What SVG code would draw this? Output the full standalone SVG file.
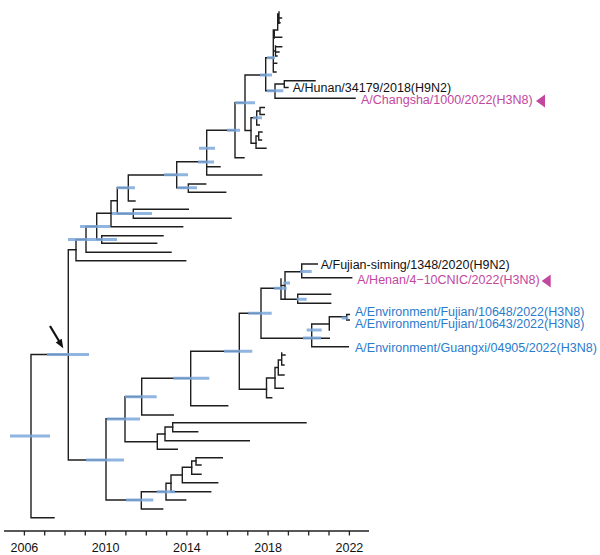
<svg xmlns="http://www.w3.org/2000/svg" width="600" height="555" viewBox="0 0 600 555">
<style>
.br{fill:none;stroke:#1e1e1e;stroke-width:1.4;stroke-linecap:square}
.hpd{fill:none;stroke:#7ea8dc;stroke-width:3;opacity:0.85}
.ax{fill:none;stroke:#222;stroke-width:1.3}
.lbl{font-family:"Liberation Sans",Arial,sans-serif;font-size:12.5px}
.yr{font-family:"Liberation Sans",Arial,sans-serif;font-size:12.5px;fill:#111;text-anchor:middle}
.blk{fill:#111}
.mag{fill:#c2479f}
.blu{fill:#2b7bcc}
</style>
<rect width="600" height="555" fill="#fff"/>
<g id="connectors">
<path class="br" d="M31 354.5V517.7M31 354.5H68.3M31 517.7H54"/>
<path class="br" d="M68.3 249.8V460M68.3 249.8H76M68.3 460H106"/>
<path class="br" d="M76 239.5V260.7M76 239.5H86M76 260.7H185.7"/>
<path class="br" d="M86 226.5V252.3M86 226.5H96.7M86 252.3H171"/>
<path class="br" d="M96.7 213.3V239.5M96.7 213.3H111M96.7 239.5H101.7"/>
<path class="br" d="M101.7 235.7V243.3M101.7 235.7H163M101.7 243.3H156.7"/>
<path class="br" d="M111 200.7V226.7M111 200.7H117.3M111 226.7H182.7"/>
<path class="br" d="M117.3 187.7V213.8M117.3 187.7H128.3M117.3 213.8H133.3"/>
<path class="br" d="M133.3 209.3V218.3M133.3 209.3H188.3M133.3 218.3H231"/>
<path class="br" d="M128.3 175V201M128.3 175H176.7M128.3 201H135"/>
<path class="br" d="M176.7 161.7V187.8M176.7 161.7H206.7M176.7 187.8H188.3"/>
<path class="br" d="M188.3 184V192.3M188.3 184H205.7M188.3 192.3H225.7"/>
<path class="br" d="M206.7 148.3V175M206.7 175H261.7M206.7 130.2V166.7M206.7 130.2H235M206.7 166.7H220"/>
<path class="br" d="M235 102.7V157.7M235 102.7H245M235 157.7H244"/>
<path class="br" d="M245 75V130.5M245 75H265.7M245 130.5H251"/>
<path class="br" d="M251 117.7V143.3M251 117.7H256.7M251 143.3H256"/>
<path class="br" d="M256.7 111V125M256.7 111H260M256.7 125H259.3M260 107.5V114.5M260 107.5H264.3M260 114.5H264.3"/>
<path class="br" d="M256 136V148.3M256 136H258.7M256 148.3H266M258.7 132V140M258.7 132H262M258.7 140H261.5"/>
<path class="br" d="M265.7 57.7V90.7M265.7 57.7H273.3M265.7 90.7H275"/>
<path class="br" d="M275 84V98.3M275 84H284.3M275 98.3H355M284.3 80.7V87.5M284.3 80.7H315M284.3 87.5H288"/>
<path class="br" d="M273.3 30V72M273.3 72H276M273.3 63.3H276.7M273.3 51H275.5M275.5 46V56M275.5 46.7H281.7M275.5 52H279M275.5 56H277M273.3 34H274.3M274.3 30V38M274.3 30H277.7M274.3 37.3H281.7M277.7 14V30M277.7 22.7H280M277.7 14H279M279 12V23.3M279 18H281.5"/>
<path class="br" d="M106 418.8V500M106 418.8H125M106 500H141.3"/>
<path class="br" d="M125 396.7V441.7M125 396.7H141.7M125 441.7H157.3"/>
<path class="br" d="M141.7 378.3V415M141.7 378.3H190.7M141.7 415H173.3"/>
<path class="br" d="M190.7 351.3V405.7M190.7 351.3H239.3M190.7 405.7H227.7"/>
<path class="br" d="M239.3 313.3V389.3M239.3 313.3H261M239.3 389.3H266.5"/>
<path class="br" d="M261 288.3V338.3M261 288.3H281M261 338.3H311.7"/>
<path class="br" d="M281 279V299.3M281 285.5H285M285 271.7V299.3M285 271.7H301.7M281 299.3H297.7"/>
<path class="br" d="M301.7 264V277.7M301.7 264H317.3M301.7 277.7H351.7"/>
<path class="br" d="M297.7 294.3V303.3M297.7 294.3H330.7M297.7 303.3H330.7"/>
<path class="br" d="M311.7 324V346.7M311.7 324H329.3M311.7 346.7H348.3M311.7 338.3H329.3"/>
<path class="br" d="M329.3 316.7V330M329.3 316.7H346.7M346.7 314.5V320M346.7 314.5H349.3M346.7 320H349.3"/>
<path class="br" d="M266.5 378V397.7M266.5 378H275M266.5 397.7H271.7"/>
<path class="br" d="M275 367.5V388.3M275 367.5H278.3M275 388.3H283.3M278.3 360V375M278.3 360H281.7M278.3 375H284M281.7 353V365M281.7 355H285M281.7 365H284"/>
<path class="br" d="M157.3 434V449.3M157.3 434H165M157.3 449.3H177.3"/>
<path class="br" d="M165 427V440.7M165 427H172.7M165 440.7H249.3"/>
<path class="br" d="M172.7 422.7V431.7M172.7 422.7H306M172.7 431.7H197.7"/>
<path class="br" d="M141.3 491.7V509M141.3 491.7H166M141.3 509H162.7"/>
<path class="br" d="M166 483.3V500M166 483.3H171M166 500H185.7"/>
<path class="br" d="M171 475V491.7M171 475H182.3M171 491.7H210.7"/>
<path class="br" d="M182.3 467.3V482.7M182.3 467.3H191.7M182.3 482.7H217.7"/>
<path class="br" d="M191.7 461V474.3M191.7 461H196M191.7 474.3H201"/>
<path class="br" d="M196 457.7V465M196 457.7H222.3M196 465H201"/>
</g>
<g id="hpd-bars">
<path class="hpd" d="M10 436H50M47 354.5H89M86 460H124M106.7 419H140M125 396.7H156.7M173.3 378.3H209.3M224 351.3H252.3M248.3 313.3H271.7M126 500H153.3M156.7 491.7H175"/>
<path class="hpd" d="M68 239.5H117M80 226.5H110M112 213.5H152M117 187.7H135M164 174.7H188M177 187.7H197M198 162H214M199 148.3H215M227 130.2H240M235 102.7H255M260 75H272M266.7 90.7H283.3M267 57.7H275M253 117.7H262"/>
<path class="hpd" d="M300 271.5H311.7M283.3 283H290M296.7 299.3H306.7M306.7 330H321.7M303 338H321M341.7 318H348.3M274 288.3H286.7"/>
</g>
<g id="arrow">
<path d="M50 326L59.6 342" stroke="#111" stroke-width="2.2" fill="none"/>
<polygon points="63.3,348.3 55.7,342.4 61.7,338.8" fill="#111"/>
</g>
<g id="leaf-hunan"><text class="lbl blk" x="292.7" y="92.3">A/Hunan/34179/2018(H9N2)</text></g>
<g id="leaf-changsha"><text class="lbl mag" x="361" y="104.3">A/Changsha/1000/2022(H3N8)</text><polygon class="mag" points="536,101 545,94.5 545,107.5"/></g>
<g id="leaf-fujian-siming"><text class="lbl blk" x="320.7" y="269">A/Fujian-siming/1348/2020(H9N2)</text></g>
<g id="leaf-henan"><text class="lbl mag" x="357.3" y="284">A/Henan/4−10CNIC/2022(H3N8)</text><polygon class="mag" points="541.7,281 550.7,274.5 550.7,287.5"/></g>
<g id="leaf-env-fujian-10648"><text class="lbl blu" x="355" y="316">A/Environment/Fujian/10648/2022(H3N8)</text></g>
<g id="leaf-env-fujian-10643"><text class="lbl blu" x="355" y="328">A/Environment/Fujian/10643/2022(H3N8)</text></g>
<g id="leaf-env-guangxi"><text class="lbl blu" x="355" y="351.5">A/Environment/Guangxi/04905/2022(H3N8)</text></g>
<g id="axis">
<path class="ax" d="M4 531H369M24.4 531v4.5M44.7 531v4.5M65 531v4.5M85.3 531v4.5M105.6 531v4.5M125.9 531v4.5M146.3 531v4.5M166.6 531v4.5M186.9 531v4.5M207.2 531v4.5M227.5 531v4.5M247.8 531v4.5M268.1 531v4.5M288.4 531v4.5M308.7 531v4.5M329 531v4.5M349.4 531v4.5"/>
<text class="yr" x="24.4" y="551.5">2006</text>
<text class="yr" x="105.6" y="551.5">2010</text>
<text class="yr" x="186.9" y="551.5">2014</text>
<text class="yr" x="268.1" y="551.5">2018</text>
<text class="yr" x="349.4" y="551.5">2022</text>
</g>
</svg>
